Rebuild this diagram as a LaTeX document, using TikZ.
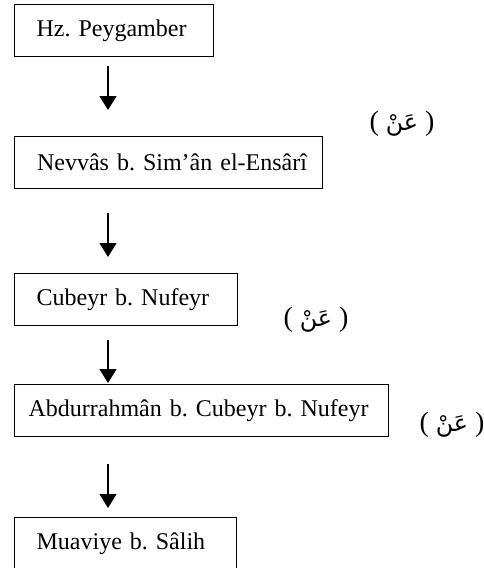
\documentclass[tikz,border=0pt]{standalone}
\usepackage{fontspec}
\setmainfont{Liberation Serif}
\newfontfamily\arabicfont[Script=Arabic,Scale=0.85]{DejaVu Sans}
\TeXXeTstate=1
\frenchspacing
\usetikzlibrary{positioning,arrows.meta}

\begin{document}
\begin{tikzpicture}[
  x=0.5pt, y=-0.5pt,
  person/.style={rectangle, draw, line width=0.6pt, anchor=north west, align=left, inner xsep=11pt, minimum height=26pt, font=\fontsize{12}{14}\selectfont},
  arrow/.style={-{Triangle[length=7pt, width=8.5pt]}, line width=0.6pt},
  an/.style={inner sep=0pt, font=\fontsize{14}{16}\selectfont},
]
\useasboundingbox (0,0) rectangle (483,568);

% === Chain of narrators ===
\node[person, text width=77.5pt] (p1) at (14,4) {\mbox{Hz. Peygamber}};
\node[person, text width=131.5pt, inner xsep=11.25pt] (p2) at (14,136) {\mbox{Nevvâs b. Sim’ân el-Ensârî}};
\node[person, text width=89.5pt] (p3) at (14,273) {\mbox{Cubeyr b. Nufeyr}};
\node[person, text width=173pt, inner xsep=7pt] (p4) at (14,384) {\mbox{Abdurrahmân b. Cubeyr b. Nufeyr}};
\node[person, text width=89pt] (p5) at (14,517) {\mbox{Muaviye b. Sâlih}};

% === Arrows ===
\coordinate (col) at (108,0);
\draw[arrow, shorten <=4.5pt, shorten >=13pt] (p1.south -| col) -- (p2.north -| col);
\draw[arrow, shorten <=12pt, shorten >=8pt] (p2.south -| col) -- (p3.north -| col);
\draw[arrow, shorten <=7pt, shorten >=0.5pt] (p3.south -| col) -- (p4.north -| col);
\draw[arrow, shorten <=13.5pt, shorten >=4.5pt] (p4.south -| col) -- (p5.north -| col);

% === "an" labels ===
\node[an] (an1) at (402,124) {( {\arabicfont\beginR عَنْ\endR} )};
\node[an] (an2) at (316,320) {( {\arabicfont\beginR عَنْ\endR} )};
\node[an] (an3) at (452,425) {( {\arabicfont\beginR عَنْ\endR} )};

\end{tikzpicture}
\end{document}
